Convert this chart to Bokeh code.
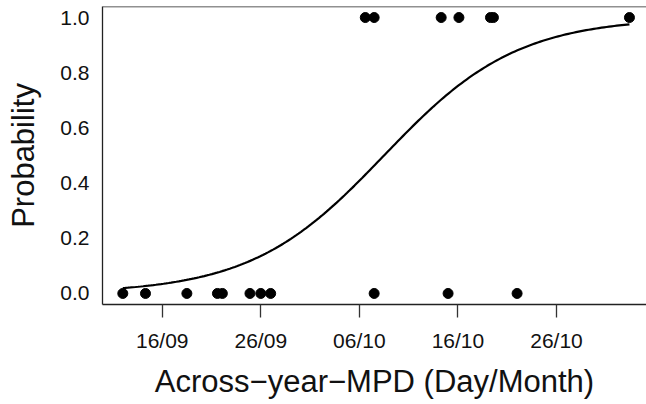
import numpy as np
from bokeh.plotting import figure
from bokeh.models import FixedTicker, Range1d, ColumnDataSource, Span
from bokeh.embed import file_html
from bokeh.resources import INLINE

# Day-of-year values (non-leap year): 259 = 16/09
x_absent = [255.0, 257.3, 261.5, 264.6, 265.1, 267.9, 269.0, 270.0, 280.5, 288.0, 295.0]
y_absent = [0] * len(x_absent)
x_present = [279.6, 280.5, 287.3, 289.1, 292.3, 292.6, 306.4]
y_present = [1] * len(x_present)

tick_days = [259, 269, 279, 289, 299]
tick_labels = ["16/09", "26/09", "06/10", "16/10", "26/10"]
y_ticks = [0.0, 0.2, 0.4, 0.6, 0.8, 1.0]
y_tick_labels = ["0.0", "0.2", "0.4", "0.6", "0.8", "1.0"]

# fitted logistic regression
slope = 0.148
midpoint = 281.5

xs_all = x_absent + x_present
ys_all = y_absent + y_present
curve_x = np.linspace(min(xs_all), max(xs_all), 200)
curve_y = 1.0 / (1.0 + np.exp(-slope * (curve_x - midpoint)))

FONT = "Liberation Sans"
Y_TOP = 1.04

p = figure(width=646, height=404, output_backend="svg", toolbar_location=None,
           x_range=Range1d(252.94, 308.13), y_range=Range1d(-0.04, Y_TOP),
           min_border_left=102, min_border_right=0, min_border_top=6,
           min_border_bottom=100)
p.background_fill_color = "white"
p.border_fill_color = "white"
p.outline_line_color = None
p.xgrid.visible = False
p.ygrid.visible = False

# top edge of the box (the right edge is outside the picture in the reference)
p.add_layout(Span(location=Y_TOP, dimension="width", line_color="#222222", line_width=1.3))

p.line(curve_x, curve_y, line_color="black", line_width=2.2)
src = ColumnDataSource(dict(x=xs_all, y=ys_all))
p.scatter("x", "y", source=src, size=10, fill_color="black", line_color="black")

xa = p.xaxis[0]
xa.ticker = FixedTicker(ticks=tick_days)
xa.major_label_overrides = {t: l for t, l in zip(tick_days, tick_labels)}
xa.minor_tick_line_color = None
xa.major_tick_in = 0
xa.major_tick_out = 13
xa.major_tick_line_color = "#333333"
xa.major_tick_line_width = 1.3
xa.axis_line_color = "#222222"
xa.axis_line_width = 1.3
xa.major_label_standoff = 11
xa.major_label_text_font = FONT
xa.major_label_text_font_size = "21px"
xa.major_label_text_color = "#111111"
xa.axis_label = "Across\u2212year\u2212MPD (Day/Month)"
xa.axis_label_text_font = FONT
xa.axis_label_text_font_size = "31px"
xa.axis_label_text_font_style = "normal"
xa.axis_label_text_color = "#111111"
xa.axis_label_standoff = 9

ya = p.yaxis[0]
ya.ticker = FixedTicker(ticks=y_ticks)
ya.major_label_overrides = {t: l for t, l in zip(y_ticks, y_tick_labels)}
ya.minor_tick_line_color = None
ya.major_tick_in = 0
ya.major_tick_out = 0
ya.major_tick_line_color = None
ya.axis_line_color = "#222222"
ya.axis_line_width = 1.3
ya.major_label_standoff = 13
ya.major_label_text_font = FONT
ya.major_label_text_font_size = "21px"
ya.major_label_text_color = "#111111"
ya.axis_label = "Probability"
ya.axis_label_text_font = FONT
ya.axis_label_text_font_size = "31px"
ya.axis_label_text_font_style = "normal"
ya.axis_label_text_color = "#111111"
ya.axis_label_standoff = 16

open("out.html", "w").write(file_html(p, INLINE))
